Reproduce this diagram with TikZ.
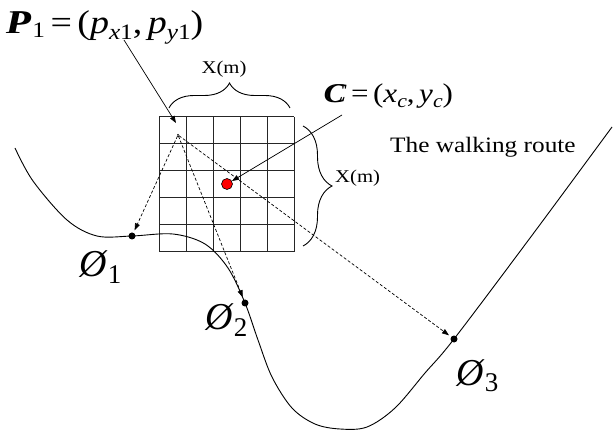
\documentclass[tikz,border=0pt]{standalone}
\usepackage{fontspec}
\setmainfont{Liberation Serif}
\newfontfamily\widefont{Liberation Serif}[FakeStretch=1.15]
\usetikzlibrary{arrows.meta,decorations.pathreplacing}
\newcommand{\dblstroke}[1]{\rlap{#1}\kern0.09em#1}
\newcommand{\lowsub}[3]{\raisebox{-#2}{\fontsize{#1}{#1}\selectfont #3}}
\begin{document}
\begin{tikzpicture}[x=1pt,y=-1pt,
  gridline/.style={line width=1pt, draw=black!85},
  route/.style={line width=0.9pt},
  ptr/.style={-{Triangle[length=7pt,width=5pt]}, line width=0.7pt},
  dasharrow/.style={ptr, dash pattern=on 3pt off 2pt, shorten >=2.5pt},
  spot/.style={circle, fill=black, inner sep=0pt, minimum size=7pt},
  redspot/.style={circle, fill=red, draw=black, line width=0.6pt, inner sep=0pt, minimum size=11pt},
  srcspot/.style={circle, fill=black, inner sep=0pt, minimum size=2pt},
  bracestyle/.style={decorate, line width=0.9pt},
  widelabel/.style={inner sep=0pt, font=\widefont\fontsize{18}{20}\selectfont},
  olabel/.style={inner sep=0pt, anchor=base west, font=\fontsize{38}{40}\selectfont}]
\useasboundingbox (0,0) rectangle (613,430);

% grid
\foreach \i in {0,...,5} {
  \draw[gridline] (159+27*\i,117) -- (159+27*\i,252);
  \draw[gridline] (159,117+27*\i) -- (294,117+27*\i);
}

% walking route
\draw[route] plot[smooth, tension=0.55] coordinates {
  (15,148) (33,181) (67,220) (97,236) (132,236) (173,234) (205,244)
  (228,268) (245,303) (258,340) (272,377) (292,408) (315,424) (340,429)
  (367,427) (395,408) (425,373) (454,339) (533,234) (612,127)};

% points
\node[spot] (o1) at (132,236) {};
\node[spot] (o2) at (245,303) {};
\node[spot] (o3) at (454,339) {};
\node[redspot] (cpt) at (227,184) {};
\node[srcspot] (src) at (178,135) {};

% labels
\node[olabel] (o1lab) at (79,277) {\textit{Ø}\lowsub{27}{6pt}{1}};
\node[olabel] (o2lab) at (205,330) {\textit{Ø}\lowsub{27}{6pt}{2}};
\node[olabel] (o3lab) at (456,385) {\textit{Ø}\lowsub{27}{6pt}{3}};

\node[inner sep=0pt, anchor=base west, font=\widefont\fontsize{33}{35}\selectfont] (plab) at (6,34)
  {\dblstroke{\textit{P}}\lowsub{22}{4pt}{1}\,=\,(\textit{p}\lowsub{22}{6pt}{\textit{x}1},\,\textit{p}\lowsub{22}{6pt}{\textit{y}1})};
\node[inner sep=0pt, anchor=base west, font=\widefont\fontsize{27}{29}\selectfont] (clab) at (323,103)
  {\dblstroke{\textit{C}}\,=\,(\textit{x}\lowsub{19}{5pt}{\textit{c}},\,\textit{y}\lowsub{19}{5pt}{\textit{c}})};
\node[inner sep=0pt, anchor=base west, font=\widefont\fontsize{22}{24}\selectfont] (routelab) at (390,153) {The walking route};

% braces
\draw[bracestyle, decoration={brace, amplitude=25pt}] (169,108) -- (290,108);
\node[widelabel] (xtop) at (224,69) {X(m)};
\draw[bracestyle, decoration={brace, amplitude=29pt}] (303,126) -- (303,246);
\node[widelabel, anchor=west] (xright) at (335,178) {X(m)};

% pointer arrows
\coordinate (pstart) at (124,40);
\coordinate (ptgt) at (176,123);
\draw[ptr] (pstart) -- (ptgt);
\coordinate (cstart) at (342,115);
\draw[ptr] (cstart) -- (cpt);

% dashed arrows
\draw[dasharrow] (src) -- (o1);
\draw[dasharrow] (src) -- (o2);
\draw[dasharrow] (src) -- (o3);
\end{tikzpicture}
\end{document}
